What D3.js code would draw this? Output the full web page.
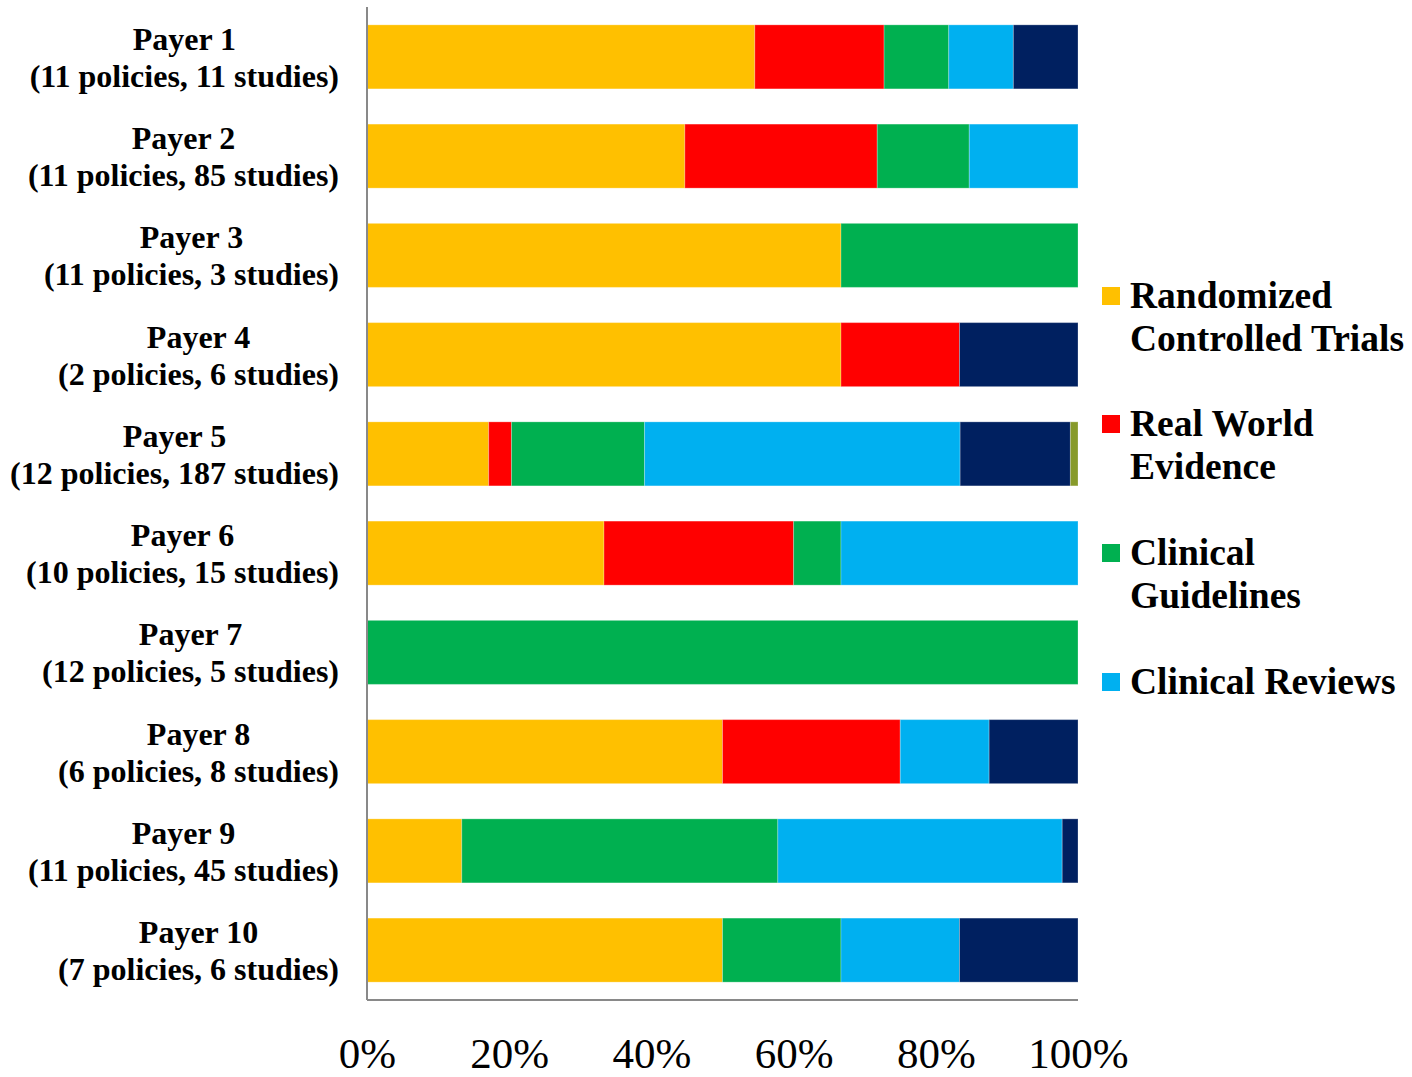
<!DOCTYPE html>
<html>
<head>
<meta charset="utf-8">
<title>Evidence types by payer</title>
<script src="https://cdn.jsdelivr.net/npm/d3@7"></script>
<style>
	body { margin: 0; background: #fff; }
	svg text { font-family: "Liberation Serif", "Times New Roman", serif; fill: #000; }
	.payer { font-size: 32px; font-weight: bold; }
	.tick text { font-size: 43px; }
	.legend text { font-size: 37.5px; font-weight: bold; }
</style>
</head>
<body>
<svg id="chart"></svg>
<script>
// payer names and subtitles
var payers = ["Payer 1", "Payer 2", "Payer 3", "Payer 4", "Payer 5",
	"Payer 6", "Payer 7", "Payer 8", "Payer 9", "Payer 10"];
var payerInfo = ["(11 policies, 11 studies)", "(11 policies, 85 studies)", "(11 policies, 3 studies)",
	"(2 policies, 6 studies)", "(12 policies, 187 studies)", "(10 policies, 15 studies)",
	"(12 policies, 5 studies)", "(6 policies, 8 studies)", "(11 policies, 45 studies)",
	"(7 policies, 6 studies)"];

// study counts per evidence type (shown as share of total)
var seriesNames = ["Randomized Controlled Trials", "Real World Evidence", "Clinical Guidelines",
	"Clinical Reviews", "Other", "Unclassified"];
var rct        = [6, 38, 2, 4, 32, 5, 0, 4, 6, 3];
var rwe        = [2, 23, 0, 1, 6, 4, 0, 2, 0, 0];
var guidelines = [1, 11, 1, 0, 35, 1, 5, 0, 20, 1];
var reviews    = [1, 13, 0, 0, 83, 5, 0, 1, 18, 1];
var other      = [1, 0, 0, 1, 29, 0, 0, 1, 1, 1];
var unclass    = [0, 0, 0, 0, 2, 0, 0, 0, 0, 0];
var xTicks = [0, 0.2, 0.4, 0.6, 0.8, 1];

var colors = ["#FFC000", "#FF0000", "#00B050", "#00B0F0", "#002060", "#879A2A"];
var legendItems = [
	["Randomized", "Controlled Trials"],
	["Real World", "Evidence"],
	["Clinical", "Guidelines"],
	["Clinical Reviews"]
];

var W = 1412, H = 1077;
var margin = {top: 7, left: 367, right: 334, bottom: 77};

var svg = d3.select("#chart").attr("width", W).attr("height", H);

var keys = ["rct", "rwe", "guidelines", "reviews", "other", "unclass"];
var cols = [rct, rwe, guidelines, reviews, other, unclass];
var rows = payers.map(function(p, i) {
	var r = {payer: p};
	var total = d3.sum(cols, function(c) { return c[i]; });
	keys.forEach(function(k, j) { r[k] = cols[j][i] / total; });
	return r;
});
var stacked = d3.stack().keys(keys)(rows);

var x = d3.scaleLinear().domain([0, 1]).range([margin.left, W - margin.right]);
var y = d3.scaleBand().domain(payers).range([margin.top, H - margin.bottom]).paddingInner(0.355).paddingOuter(0.18);

var layers = svg.append("g").selectAll("g")
	.data(stacked).enter().append("g")
	.attr("fill", function(d, i) { return colors[i]; });

layers.selectAll("rect")
	.data(function(d) { return d; })
	.enter().append("rect")
	.attr("x", function(d) { return x(d[0]); })
	.attr("width", function(d) { return x(d[1]) - x(d[0]); })
	.attr("y", function(d) { return y(d.data.payer); })
	.attr("height", y.bandwidth())
	.attr("stroke", "rgba(255,255,255,0.25)")
	.attr("stroke-width", 1);

// axis lines (left and bottom)
svg.append("line")
	.attr("x1", x(0)).attr("x2", x(0))
	.attr("y1", margin.top).attr("y2", H - margin.bottom)
	.attr("stroke", "#898989").attr("stroke-width", 2);
svg.append("line")
	.attr("x1", x(0)).attr("x2", x(1))
	.attr("y1", H - margin.bottom).attr("y2", H - margin.bottom)
	.attr("stroke", "#898989").attr("stroke-width", 2);

var xAxis = svg.append("g")
	.attr("transform", "translate(0," + (H - margin.bottom) + ")")
	.call(d3.axisBottom(x).tickValues(xTicks).tickFormat(d3.format(".0%")).tickSize(0).tickPadding(0));
xAxis.select(".domain").remove();
xAxis.selectAll("text").attr("y", 68).attr("dy", null).attr("fill", "#000");

// payer labels: two centred lines, block right-aligned next to the axis
var labelRight = 339;
var labels = svg.append("g").selectAll("text")
	.data(payers).enter().append("text")
	.attr("class", "payer")
	.attr("text-anchor", "middle")
	.attr("y", function(d) { return y(d) + y.bandwidth() / 2; });
labels.append("tspan").attr("class", "l1").attr("dy", -7).text(function(d) { return d; });
labels.append("tspan").attr("class", "l2").attr("dy", 37).text(function(d, i) { return payerInfo[i]; });
labels.each(function() {
	var t = d3.select(this);
	var w = Math.max(t.select(".l1").node().getComputedTextLength(), t.select(".l2").node().getComputedTextLength());
	t.selectAll("tspan").attr("x", labelRight - w / 2);
});

// legend
var legend = svg.append("g").attr("class", "legend");
var ly = [296, 424, 553, 682];
legendItems.forEach(function(lines, i) {
	legend.append("rect")
		.attr("x", 1102).attr("y", ly[i] - 9)
		.attr("width", 18).attr("height", 18)
		.attr("fill", colors[i]);
	lines.forEach(function(t, j) {
		legend.append("text")
			.attr("x", 1130).attr("y", ly[i] + j * 43)
			.attr("dy", "0.33em")
			.text(t);
	});
});
</script>
</body>
</html>
